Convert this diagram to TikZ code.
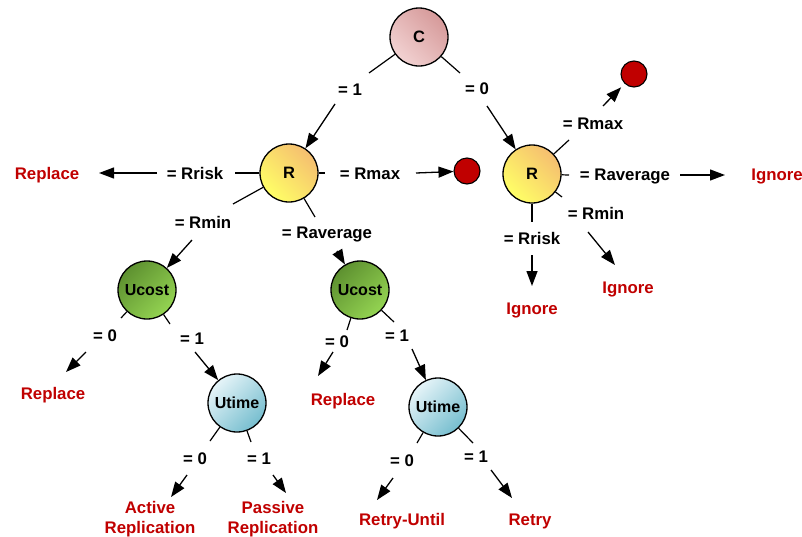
\documentclass[tikz,border=0pt]{standalone}
\usepackage{fontspec}
\setmainfont{Liberation Sans}
\usetikzlibrary{arrows.meta}
\definecolor{decred}{HTML}{C00000}
\definecolor{pinkL}{HTML}{F2D2D2}
\definecolor{pinkD}{HTML}{D69A9A}
\definecolor{yelL}{HTML}{FFFF66}
\definecolor{yelD}{HTML}{F5BE70}
\definecolor{grnD}{HTML}{5E9130}
\definecolor{grnL}{HTML}{94D452}
\definecolor{bluL}{HTML}{E6F4F8}
\definecolor{bluD}{HTML}{76BECF}
\begin{document}
\begin{tikzpicture}[x=1pt,y=-1pt,
  ball/.style={circle, draw=black, line width=1.3pt, minimum size=58pt, inner sep=0pt,
    font=\bfseries\fontsize{16.5}{18}\selectfont},
  small/.style={font=\bfseries\fontsize{16}{18}\selectfont},
  cshade/.style={top color=pinkD, bottom color=pinkL, shading angle=-45},
  rshade/.style={top color=yelD, bottom color=yelL, shading angle=-45},
  ushade/.style={top color=grnD, bottom color=grnL, shading angle=45},
  tshade/.style={top color=bluL, bottom color=bluD, shading angle=45},
  cond/.style={font=\bfseries\fontsize{16.8}{19}\selectfont, inner sep=0pt,
    text height=12pt, text depth=0pt},
  outcome/.style={font=\bfseries\fontsize{16.8}{20}\selectfont, text=decred,
    align=center, inner sep=0pt},
  single/.style={text height=12pt, text depth=0pt},
  stub/.style={line width=1.2pt},
  arr/.style={line width=1.3pt, -{Triangle[length=15pt,width=11pt]}},
  stopdot/.style={circle, draw=black, line width=1.1pt, fill=decred,
    minimum size=26pt, inner sep=0pt}
]
\useasboundingbox (0,0) rectangle (802,536);

% decision nodes
\node[ball, cshade] (C) at (419,37) {C};
\node[ball, rshade] (R1) at (289,173) {R};
\node[ball, rshade] (R2) at (532,174) {R};
\node[ball, ushade, small] (U1) at (147,290) {Ucost};
\node[ball, ushade, small] (U2) at (360,290) {Ucost};
\node[ball, tshade, small] (T1) at (237,403) {Utime};
\node[ball, tshade, small] (T2) at (438,407) {Utime};

% terminal stop markers
\node[stopdot] (D1) at (467,171) {};
\node[stopdot] (D2) at (634,74) {};

% outcomes
\node[outcome, single] (o1) at (47,173) {Replace};
\node[outcome, single] (o2) at (777,174) {Ignore};
\node[outcome, single] (o3) at (532,308) {Ignore};
\node[outcome, single] (o4) at (628,287) {Ignore};
\node[outcome, single] (o5) at (53,393) {Replace};
\node[outcome, single] (o6) at (343,399) {Replace};
\node[outcome] (o7) at (150,519) {Active\\Replication};
\node[outcome] (o8) at (273,519) {Passive\\Replication};
\node[outcome, single] (o9) at (402,519) {Retry-Until};
\node[outcome, single] (o10) at (530,519) {Retry};

% branch conditions
\node[cond] (l1) at (350,89) {= 1};
\node[cond] (l2) at (477,88) {= 0};
\node[cond] (l3) at (195,173) {= Rrisk};
\node[cond] (l4) at (370,173) {= Rmax};
\node[cond] (l5) at (203,222) {= Rmin};
\node[cond] (l6) at (327,232) {= Raverage};
\node[cond] (l7) at (593,123) {= Rmax};
\node[cond] (l8) at (625,174) {= Raverage};
\node[cond] (l9) at (596,213) {= Rmin};
\node[cond] (l10) at (532,238) {= Rrisk};
\node[cond] (l11) at (105,335) {= 0};
\node[cond] (l12) at (192,338) {= 1};
\node[cond] (l13) at (337,341) {= 0};
\node[cond] (l14) at (397,335) {= 1};
\node[cond] (l15) at (195,458) {= 0};
\node[cond] (l16) at (259,458) {= 1};
\node[cond] (l17) at (402,460) {= 0};
\node[cond] (l18) at (476,456) {= 1};

% stub ends (short lines leaving each decision node)
\coordinate (sC1) at (369,73);
\coordinate (sC2) at (460,73);
\coordinate (sR1a) at (235,173);
\coordinate (sR1b) at (325,173);
\coordinate (sR1c) at (233,204);
\coordinate (sR1d) at (315,217);
\coordinate (sR2a) at (569,140);
\coordinate (sR2b) at (569,175);
\coordinate (sR2c) at (562,197);
\coordinate (sR2d) at (532,222);
\coordinate (sU1a) at (121,318);
\coordinate (sU1b) at (170,324);
\coordinate (sU2a) at (347,330);
\coordinate (sU2b) at (394,322);
\coordinate (sT1a) at (210,441);
\coordinate (sT1b) at (251,442);
\coordinate (sT2a) at (417,443);
\coordinate (sT2b) at (473,443);

\foreach \n/\s in {C/sC1, C/sC2, R1/sR1a, R1/sR1b, R1/sR1c, R1/sR1d,
  R2/sR2a, R2/sR2b, R2/sR2c, R2/sR2d, U1/sU1a, U1/sU1b, U2/sU2a, U2/sU2b,
  T1/sT1a, T1/sT1b, T2/sT2a, T2/sT2b}
  \draw[stub] (\n) -- (\s);

% arrow starts below/beside the condition labels
\coordinate (aC1) at (335,104);
\coordinate (aC2) at (487,106);
\coordinate (aR1a) at (157,173);
\coordinate (aR1b) at (416,173);
\coordinate (aR1c) at (192,240);
\coordinate (aR1d) at (337,251);
\coordinate (aR2a) at (603,106);
\coordinate (aR2b) at (680,175);
\coordinate (aR2c) at (588,232);
\coordinate (aR2d) at (532,255);
\coordinate (aU1a) at (86,352);
\coordinate (aU1b) at (195,352);
\coordinate (aU2a) at (333,352);
\coordinate (aU2b) at (412,349);
\coordinate (aT1a) at (187,475);
\coordinate (aT1b) at (273,475);
\coordinate (aT2a) at (393,478);
\coordinate (aT2b) at (491,470);

% arrow tips in front of the outcome texts
\coordinate (tR1a) at (99,173);
\coordinate (tR2b) at (725,175);
\coordinate (tR2c) at (615,265);
\coordinate (tR2d) at (532,286);
\coordinate (tU1a) at (66,372);
\coordinate (tU2a) at (318,376);
\coordinate (tT1a) at (171,497);
\coordinate (tT1b) at (286,493);
\coordinate (tT2a) at (377,500);
\coordinate (tT2b) at (512,498);

\draw[arr] (aC1) -- (R1);
\draw[arr] (aC2) -- (R2);
\draw[arr] (aR1a) -- (tR1a);
\draw[arr] (aR1b) -- (D1);
\draw[arr] (aR1c) -- (U1);
\draw[arr] (aR1d) -- (U2);
\draw[arr, shorten >=5pt] (aR2a) -- (D2);
\draw[arr] (aR2b) -- (tR2b);
\draw[arr] (aR2c) -- (tR2c);
\draw[arr] (aR2d) -- (tR2d);
\draw[arr] (aU1a) -- (tU1a);
\draw[arr] (aU1b) -- (T1);
\draw[arr] (aU2a) -- (tU2a);
\draw[arr] (aU2b) -- (T2);
\draw[arr] (aT1a) -- (tT1a);
\draw[arr] (aT1b) -- (tT1b);
\draw[arr] (aT2a) -- (tT2a);
\draw[arr] (aT2b) -- (tT2b);
\end{tikzpicture}
\end{document}
